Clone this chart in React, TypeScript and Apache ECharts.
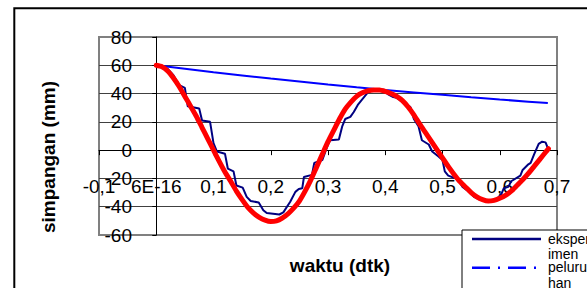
import React, { useEffect, useRef } from "react";
import * as echarts from "echarts";

// ---- data ----
const xTickLabels = ["-0,1", "6E-16", "0,1", "0,2", "0,3", "0,4", "0,5", "0,6", "0,7"];
const yTickLabels = ["-60", "-40", "-20", "0", "20", "40", "60", "80"];

// measured (stepped) oscillation: [time (s), displacement (mm)]
const eksperimen: [number, number][] = [
  [0, 60], [0.01, 59.5], [0.02, 57.5], [0.03, 53], [0.04, 46], [0.05, 44],
  [0.055, 31], [0.075, 29.5], [0.08, 21], [0.094, 20], [0.1, 5], [0.106, -1],
  [0.12, -2.5], [0.125, -13], [0.135, -15], [0.14, -25], [0.151, -26.5],
  [0.158, -33], [0.165, -36], [0.179, -37], [0.187, -42.5], [0.193, -44.5],
  [0.215, -45.5], [0.222, -44], [0.234, -36.5], [0.243, -29.5], [0.249, -27.5],
  [0.255, -27], [0.258, -19], [0.272, -17.5], [0.276, -9], [0.29, -7], [0.3, 4],
  [0.304, 7], [0.319, 7.5], [0.325, 17], [0.33, 22], [0.339, 23.5], [0.345, 27],
  [0.352, 32], [0.358, 35], [0.37, 41], [0.38, 42.5], [0.39, 42.5], [0.4, 41],
  [0.405, 39.5], [0.414, 37.5], [0.42, 37], [0.43, 34], [0.438, 32], [0.444, 30.5],
  [0.45, 22], [0.458, 17], [0.464, 7], [0.476, 4], [0.482, -1], [0.493, -4.5],
  [0.5, -7], [0.504, -15], [0.51, -18], [0.52, -19.5], [0.526, -20], [0.535, -26],
  [0.545, -29], [0.555, -33], [0.565, -35], [0.58, -36], [0.595, -34.5],
  [0.603, -31], [0.607, -27], [0.615, -26], [0.62, -22], [0.636, -18], [0.64, -14],
  [0.65, -10], [0.654, -9], [0.66, -3], [0.668, 4.5], [0.674, 6], [0.68, 5.5],
  [0.684, 1.5],
];

// decay envelope
const peluruhan: [number, number][] = [
  [0, 60], [0.05, 57.5], [0.1, 55], [0.15, 52.8], [0.2, 50.6], [0.25, 48.5],
  [0.3, 46.4], [0.35, 44.4], [0.4, 42.5], [0.45, 40.8], [0.5, 39.1], [0.55, 37.4],
  [0.6, 35.8], [0.65, 34.3], [0.684, 33.3],
];

// fitted smooth curve
const modelCurve: [number, number][] = [
  [0, 60], [0.01, 59], [0.02, 56], [0.03, 51], [0.04, 45], [0.05, 38], [0.06, 31],
  [0.07, 24], [0.08, 16], [0.09, 8], [0.1, 0], [0.11, -8], [0.12, -15.5],
  [0.13, -22], [0.14, -29], [0.15, -35], [0.16, -40.5], [0.17, -44.5], [0.18, -47.5],
  [0.19, -49.5], [0.2, -50.5], [0.21, -50], [0.22, -48], [0.23, -45], [0.24, -41],
  [0.25, -36], [0.26, -29], [0.27, -21], [0.28, -12], [0.29, -3], [0.3, 6],
  [0.31, 14], [0.32, 22], [0.33, 29], [0.34, 34], [0.35, 38], [0.36, 40.5],
  [0.37, 42], [0.38, 42.5], [0.39, 42.5], [0.4, 41.5], [0.41, 40], [0.42, 38],
  [0.43, 35], [0.44, 30.5], [0.45, 25], [0.46, 18.5], [0.47, 12.5], [0.48, 6.5],
  [0.49, 0.5], [0.5, -5.5], [0.51, -11.5], [0.52, -17], [0.53, -22], [0.54, -26],
  [0.55, -30], [0.56, -33], [0.57, -35], [0.58, -36], [0.59, -35.5], [0.6, -34],
  [0.61, -32], [0.62, -29], [0.63, -25], [0.64, -21], [0.65, -16.5], [0.66, -11.5],
  [0.67, -6.5], [0.68, -1.5], [0.685, 1],
];

const FONT = 'Arial, "Liberation Sans", sans-serif';

export default function App() {
  const ref = useRef<HTMLDivElement>(null);
  useEffect(() => {
    if (!ref.current) return;
    const chart = echarts.init(ref.current, undefined, { renderer: "svg" });
    chart.setOption({
      animation: false,
      backgroundColor: "#ffffff",
      grid: {
        left: 99, top: 37, width: 458, height: 198,
        show: true, borderColor: "#808080", borderWidth: 2,
        backgroundColor: "transparent", containLabel: false,
      },
      xAxis: {
        type: "value", min: -0.1, max: 0.7, interval: 0.1,
        axisLine: { show: true, onZero: true, lineStyle: { color: "#000", width: 1 } },
        axisTick: { show: true, inside: false, length: 5, lineStyle: { color: "#000" } },
        axisLabel: {
          show: true, margin: -58, fontSize: 19, color: "#000", fontFamily: FONT,
          hideOverlap: false, showMinLabel: true, showMaxLabel: true,
          formatter: (v: number) => xTickLabels[Math.round((v + 0.1) / 0.1)] ?? "",
        },
        splitLine: { show: false },
      },
      yAxis: {
        type: "value", min: -60, max: 80, interval: 20,
        axisLine: { show: true, onZero: true, lineStyle: { color: "#000", width: 1 } },
        axisTick: { show: true, inside: false, length: 4, lineStyle: { color: "#000" } },
        axisLabel: {
          show: true, margin: -33, fontSize: 19, color: "#000", fontFamily: FONT,
          hideOverlap: false, showMinLabel: true, showMaxLabel: true,
          formatter: (v: number) => yTickLabels[Math.round((v + 60) / 20)] ?? "",
        },
        splitLine: {
          show: true, showMinLine: false, showMaxLine: false,
          lineStyle: { color: "#404040", width: 1 },
        },
      },
      series: [
        {
          name: "peluruhan", type: "line", data: peluruhan, symbol: "none",
          lineStyle: { color: "#0000FF", width: 2 }, z: 2,
        },
        {
          name: "eksperimen", type: "line", data: eksperimen, symbol: "none",
          lineStyle: { color: "#000080", width: 2 }, z: 3,
        },
        {
          name: "model", type: "line", data: modelCurve, symbol: "none", smooth: 0.2,
          lineStyle: { color: "#FF0000", width: 5, cap: "round", join: "round" }, z: 4,
        },
      ],
      graphic: [
        {
          type: "rect", z: 0, silent: true,
          shape: { x: 14.3, y: 8.3, width: 700, height: 400 },
          style: { fill: "none", stroke: "#000", lineWidth: 2 },
        },
        {
          type: "text", x: 48, y: 157, rotation: Math.PI / 2,
          style: {
            text: "simpangan (mm)", font: `bold 19px ${FONT}`, fill: "#000",
            align: "center", verticalAlign: "middle",
          },
        },
        {
          type: "text", x: 340, y: 265,
          style: {
            text: "waktu (dtk)", font: `bold 19px ${FONT}`, fill: "#000",
            align: "center", verticalAlign: "middle",
          },
        },
        {
          type: "group", z: 100,
          children: [
            {
              type: "rect", shape: { x: 462, y: 230, width: 200, height: 100 },
              style: { fill: "#fff", stroke: "#000", lineWidth: 1 },
            },
            {
              type: "line", shape: { x1: 472, y1: 239, x2: 541, y2: 239 },
              style: { stroke: "#000080", lineWidth: 2.5 },
            },
            {
              type: "line", shape: { x1: 472, y1: 267.7, x2: 541, y2: 267.7 },
              style: { stroke: "#0000FF", lineWidth: 2.5, lineDash: [18, 8, 2, 8] },
            },
            { type: "text", x: 548, y: 238.5, style: { text: "eksper", font: `14px ${FONT}`, fill: "#000", verticalAlign: "middle" } },
            { type: "text", x: 548, y: 253.7, style: { text: "imen", font: `14px ${FONT}`, fill: "#000", verticalAlign: "middle" } },
            { type: "text", x: 548, y: 267.2, style: { text: "peluru", font: `14px ${FONT}`, fill: "#000", verticalAlign: "middle" } },
            { type: "text", x: 548, y: 282.7, style: { text: "han", font: `14px ${FONT}`, fill: "#000", verticalAlign: "middle" } },
          ],
        },
      ],
    });
    return () => chart.dispose();
  }, []);
  return (
    <div
      ref={ref}
      style={{ position: "fixed", left: 0, top: 0, width: 587, height: 288 }}
    />
  );
}
